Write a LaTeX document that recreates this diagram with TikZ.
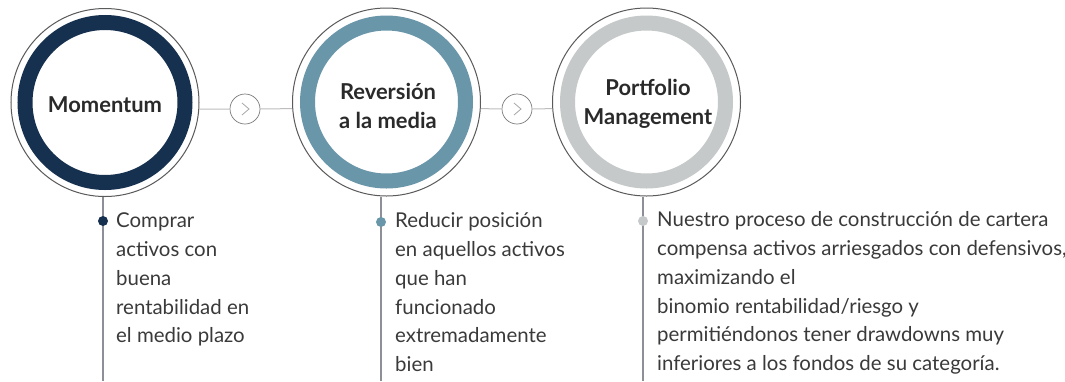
\documentclass[tikz,border=0pt]{standalone}
\usepackage{fontspec}
\setmainfont{Lato}
\definecolor{navy}{HTML}{16304F}
\definecolor{steel}{HTML}{6A96AA}
\definecolor{lgray}{HTML}{C5C9C9}
\definecolor{rimc}{HTML}{5A5A5A}
\definecolor{connc}{HTML}{BDBDBD}
\definecolor{vlinec}{HTML}{8C9096}
\definecolor{txt}{HTML}{3A3A3A}
\definecolor{ttl}{HTML}{2A2A2A}
\begin{document}
\begin{tikzpicture}[x=1bp,y=-1bp,
  outer/.style={circle,draw=rimc,line width=1bp,minimum size=188bp,inner sep=0pt},
  ringstyle/.style={line width=15bp},
  arrowc/.style={circle,draw=rimc!80,line width=0.7bp,minimum size=30bp,inner sep=0pt},
  chev/.style={draw=gray!70,line width=0.8bp},
  conn/.style={draw=connc,line width=1bp},
  vline/.style={draw=vlinec,line width=1.5bp},
  dotb/.style={circle,inner sep=0pt,minimum size=10bp},
  title/.style={font=\fontsize{22}{29.5}\selectfont\bfseries,text=ttl,align=center,inner sep=0pt},
  body/.style={font=\fontsize{20.5}{29}\selectfont,text=txt,align=left,anchor=north west,inner sep=0pt}
]
\useasboundingbox (0,0) rectangle (1065,381);
\fill[white] (0,0) rectangle (1065,381);

% circles
\node[outer] (c1) at (105,102.5) {};
\node[outer] (c2) at (386.5,102) {};
\node[outer] (c3) at (646.5,102) {};
\draw[ringstyle,navy] (c1.center) circle[radius=80];
\draw[ringstyle,steel] (c2.center) circle[radius=79];
\draw[ringstyle,lgray] (c3.center) circle[radius=79];

% titles
\node[title] (t1) at (105,105) {Momentum};
\node[title] (t2) at (388,106) {Reversión\\a la media};
\node[title] (t3) at (648,104) {Portfolio\\Management};

% arrow circles
\node[arrowc] (a1) at (245,109) {};
\node[arrowc] (a2) at (517,109) {};
\draw[chev] ([xshift=-3bp,yshift=6bp]a1.center) -- ([xshift=4bp]a1.center) -- ([xshift=-3bp,yshift=-6bp]a1.center);
\draw[chev] ([xshift=-3bp,yshift=6bp]a2.center) -- ([xshift=4bp]a2.center) -- ([xshift=-3bp,yshift=-6bp]a2.center);

% connectors
\draw[conn] (c1.-4) -- (a1.west);
\draw[conn] (a1.east) -- (c2.184);
\draw[conn] (c2.-4) -- (a2.west);
\draw[conn] (a2.east) -- (c3.184);

% vertical lines
\coordinate (v1) at (103,381);
\coordinate (v2) at (381,381);
\coordinate (v3) at (643,381);
\draw[vline] (c1.south -| v1) -- (v1);
\draw[vline] (c2.south -| v2) -- (v2);
\draw[vline] (c3.south -| v3) -- (v3);

% bullets
\node[dotb,fill=navy] (d1) at (103,221) {};
\node[dotb,fill=steel] (d2) at (381,222) {};
\node[dotb,fill=lgray] (d3) at (643,221) {};

% body texts
\node[body] (b1) at (116,207) {\strut Comprar\\activos con\\buena\\rentabilidad en\\el medio plazo};
\node[body] (b2) at (395,207) {\strut Reducir posición\\en aquellos activos\\que han\\funcionado\\extremadamente\\bien};
\node[body] (b3) at (657,206) {\strut Nuestro proceso de construcción de cartera\\compensa activos arriesgados con defensivos,\\maximizando el\\binomio rentabilidad/riesgo y\\permitiéndonos tener drawdowns muy\\inferiores a los fondos de su categoría.};
\end{tikzpicture}
\end{document}
